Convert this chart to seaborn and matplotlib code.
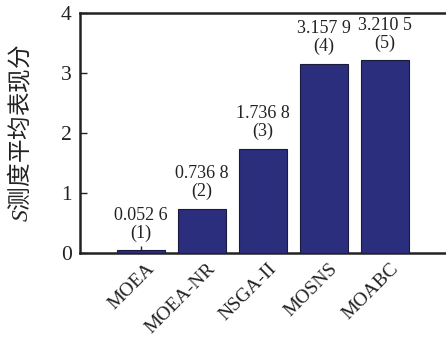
import matplotlib
matplotlib.use("Agg")
import matplotlib.pyplot as plt
import matplotlib.transforms as mtransforms
import seaborn as sns
import pandas as pd

categories = ["MOEA", "MOEA-NR", "NSGA-II", "MOSNS", "MOABC"]
values = [0.0526, 0.7368, 1.7368, 3.1579, 3.2105]
value_labels = ["0.052 6", "0.736 8", "1.736 8", "3.157 9", "3.210 5"]
ranks = ["(1)", "(2)", "(3)", "(4)", "(5)"]
yticks = [0, 1, 2, 3, 4]

sns.set_style("ticks")
plt.rcParams['font.family'] = ['Liberation Serif', 'Noto Sans CJK SC', 'DejaVu Sans']
plt.rcParams['mathtext.fontset'] = 'custom'
plt.rcParams['mathtext.it'] = 'Liberation Serif:italic'
plt.rcParams['mathtext.rm'] = 'Liberation Serif'

df = pd.DataFrame({"alg": categories, "val": values})

fig = plt.figure(figsize=(4.46, 3.38), dpi=100)
ax = fig.add_axes([80/446, 1-253/338, 1-80/446, (253-13)/338])

bar_color = "#2b2e7c"
sns.barplot(data=df, x="alg", y="val", color=bar_color, saturation=1, width=0.8,
            edgecolor="#1a1a3a", linewidth=0.8, ax=ax, zorder=3)

ax.set_xlim(-1, 5)
ax.set_ylim(0, 4)
ax.set_yticks(yticks)
ax.set_yticklabels([str(t) for t in yticks], fontsize=15.5, color="#222222")

line_c = "#222222"
for s in ["left", "bottom", "top"]:
    ax.spines[s].set_color(line_c)
    ax.spines[s].set_linewidth(1.8)
ax.spines["right"].set_visible(False)
ax.tick_params(axis="both", direction="in", length=5, width=1.0, color=line_c)
ax.tick_params(axis="y", pad=6)
ax.tick_params(axis="x", pad=2)

ax.set_xlabel("")
ax.set_xticks(range(len(categories)))
labels = ax.set_xticklabels(categories, fontsize=14, rotation=45, ha="right",
                            va="top", rotation_mode="anchor", color="#222222")
offset = mtransforms.ScaledTranslation(5/100, -4/100, fig.dpi_scale_trans)
for lab in labels:
    lab.set_transform(lab.get_transform() + offset)

ax.set_ylabel("$S$测度平均表现分", fontsize=17, color="#222222",
              family=['Noto Sans CJK SC'], labelpad=20)

for i, (v, vl, r) in enumerate(zip(values, value_labels, ranks)):
    ax.annotate(vl + "\n" + r, xy=(i, v), xytext=(0, 6), textcoords="offset points",
                ha="center", va="bottom", fontsize=13, color="#222222",
                linespacing=1.05)

fig.savefig("out.png", dpi=100)
